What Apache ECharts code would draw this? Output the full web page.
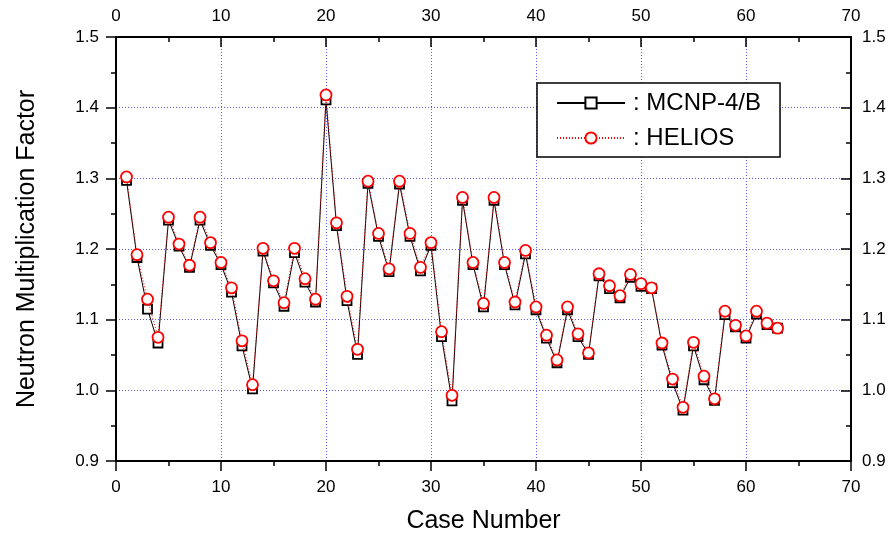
<!DOCTYPE html>
<html>
<head>
<meta charset="utf-8">
<script src="https://cdn.jsdelivr.net/npm/echarts@6/dist/echarts.min.js"></script>
<style>
  html, body { margin: 0; padding: 0; background: #fff; }
  #chart { width: 891px; height: 539px; }
</style>
</head>
<body>
<div id="chart"></div>
<script>
// case numbers 1..63
const cases = [
  1, 2, 3, 4, 5, 6, 7, 8, 9, 10, 11, 12, 13, 14, 15, 16, 17, 18, 19, 20,
  21, 22, 23, 24, 25, 26, 27, 28, 29, 30, 31, 32, 33, 34, 35, 36, 37, 38, 39, 40,
  41, 42, 43, 44, 45, 46, 47, 48, 49, 50, 51, 52, 53, 54, 55, 56, 57, 58, 59, 60,
  61, 62, 63
];

// MCNP-4/B results (squares)
const mcnp = [
  1.297, 1.188, 1.115, 1.067, 1.241, 1.204, 1.174, 1.241, 1.205, 1.178,
  1.139, 1.063, 1.002, 1.197, 1.152, 1.119, 1.195, 1.153, 1.125, 1.411,
  1.233, 1.127, 1.051, 1.293, 1.218, 1.168, 1.292, 1.218, 1.169, 1.205,
  1.076, 0.985, 1.269, 1.178, 1.118, 1.269, 1.178, 1.121, 1.193, 1.114,
  1.074, 1.039, 1.114, 1.076, 1.051, 1.162, 1.144, 1.131, 1.160, 1.147,
  1.144, 1.064, 1.011, 0.972, 1.063, 1.015, 0.986, 1.107, 1.090, 1.074,
  1.108, 1.093, 1.088
];

// HELIOS results (circles)
const helios = [
  1.302, 1.192, 1.129, 1.075, 1.245, 1.207, 1.177, 1.245, 1.209, 1.181,
  1.145, 1.070, 1.008, 1.201, 1.155, 1.124, 1.201, 1.158, 1.129, 1.418,
  1.237, 1.133, 1.058, 1.296, 1.222, 1.172, 1.296, 1.222, 1.174, 1.209,
  1.083, 0.993, 1.273, 1.181, 1.123, 1.273, 1.181, 1.125, 1.198, 1.118,
  1.078, 1.043, 1.118, 1.080, 1.053, 1.165, 1.148, 1.134, 1.164, 1.151,
  1.145, 1.067, 1.016, 0.976, 1.068, 1.020, 0.988, 1.112, 1.092, 1.077,
  1.112, 1.095, 1.088
];

// tick labels
const xTicks = [0, 10, 20, 30, 40, 50, 60, 70];
const yTicks = [0.9, 1.0, 1.1, 1.2, 1.3, 1.4, 1.5];

const FONT = "'Liberation Sans', Arial, sans-serif";

const chart = echarts.init(document.getElementById('chart'), null, { renderer: 'canvas' });

// shared look of the four frame axes
function frameAxis(inside, margin) {
  return {
    axisLine: { show: true, onZero: false, lineStyle: { color: '#000', width: 2 } },
    axisTick: { show: true, inside: inside, length: 10, lineStyle: { color: '#000', width: 1.5 } },
    minorTick: { show: true, splitNumber: 2, length: 5, lineStyle: { color: '#000', width: 1.5 } },
    axisLabel: { color: '#000', fontSize: 17, fontFamily: FONT, margin: margin }
  };
}

const gridLine = { show: true, lineStyle: { color: '#5a5aff', type: [1, 2], width: 1 } };
const yFmt = (v) => v.toFixed(1);

const option = {
  animation: false,
  backgroundColor: '#fff',
  grid: { left: 116, right: 40, top: 37, bottom: 76 },
  xAxis: [
    Object.assign(frameAxis(false, 18), {
      type: 'value',
      position: 'bottom',
      min: xTicks[0],
      max: xTicks[xTicks.length - 1],
      interval: xTicks[1] - xTicks[0],
      name: 'Case Number',
      nameLocation: 'middle',
      nameGap: 48,
      nameTextStyle: { color: '#000', fontSize: 25, fontFamily: FONT },
      splitLine: gridLine
    }),
    Object.assign(frameAxis(true, 12), {
      type: 'value',
      position: 'top',
      min: xTicks[0],
      max: xTicks[xTicks.length - 1],
      interval: xTicks[1] - xTicks[0],
      splitLine: { show: false }
    })
  ],
  yAxis: [
    Object.assign(frameAxis(false, 17), {
      type: 'value',
      position: 'left',
      min: yTicks[0],
      max: yTicks[yTicks.length - 1],
      interval: 0.1,
      name: 'Neutron Multiplication Factor',
      nameLocation: 'middle',
      nameGap: 76,
      nameTextStyle: { color: '#000', fontSize: 25, fontFamily: FONT },
      splitLine: gridLine
    }),
    Object.assign(frameAxis(true, 11), {
      type: 'value',
      position: 'right',
      min: yTicks[0],
      max: yTicks[yTicks.length - 1],
      interval: 0.1,
      splitLine: { show: false }
    })
  ],
  legend: {
    left: 537,
    top: 83,
    orient: 'vertical',
    backgroundColor: '#fff',
    borderColor: '#000',
    borderWidth: 1.5,
    borderRadius: 0,
    padding: [8, 19, 7, 19],
    itemGap: 11,
    itemWidth: 68,
    itemHeight: 14,
    formatter: (name) => ': ' + name,
    textStyle: { color: '#000', fontSize: 24, fontFamily: FONT, padding: [0, 0, 0, 3] },
    data: ['MCNP-4/B', 'HELIOS']
  },
  series: [
    {
      name: 'MCNP-4/B',
      type: 'line',
      xAxisIndex: 0,
      yAxisIndex: 0,
      data: cases.map((c, i) => [c, mcnp[i]]),
      symbol: 'rect',
      symbolSize: 9,
      lineStyle: { color: '#000', width: 1 },
      itemStyle: { color: '#fff', borderColor: '#000', borderWidth: 1.8 },
      z: 2
    },
    {
      name: 'HELIOS',
      type: 'line',
      xAxisIndex: 0,
      yAxisIndex: 0,
      data: cases.map((c, i) => [c, helios[i]]),
      symbol: 'circle',
      symbolSize: 11,
      lineStyle: { color: '#ff0000', width: 1, type: [1, 2] },
      itemStyle: { color: '#fff', borderColor: '#ff0000', borderWidth: 1.8 },
      z: 3
    }
  ]
};

option.yAxis[0].axisLabel.formatter = yFmt;
option.yAxis[1].axisLabel.formatter = yFmt;

chart.setOption(option);
</script>
</body>
</html>
